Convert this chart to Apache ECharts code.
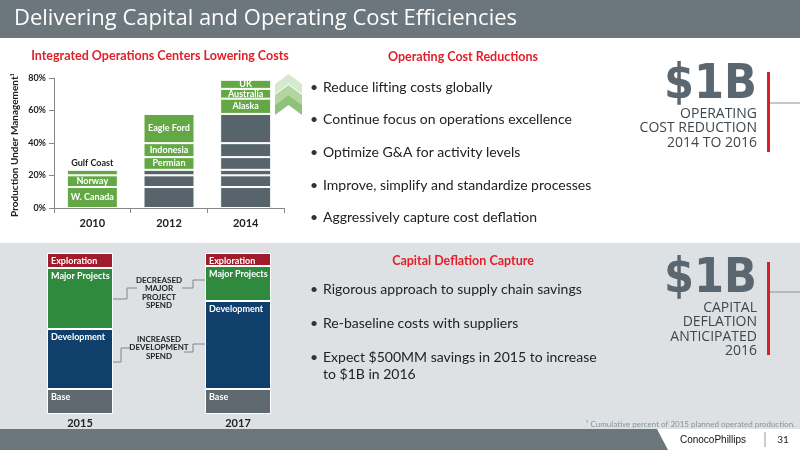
<!DOCTYPE html>
<html><head><meta charset="utf-8">
<script src="https://cdn.jsdelivr.net/npm/echarts@6/dist/echarts.min.js"></script>
<style>html,body{margin:0;padding:0;}#c{width:800px;height:450px;}</style>
</head><body><div id="c"></div>
<script>
// top chart: production under management (%)
const years = ['2010', '2012', '2014']
const regions = ['W. Canada', 'Norway', 'Gulf Coast', 'Permian', 'Indonesia', 'Eagle Ford', 'Alaska', 'Australia', 'UK']
const regionShare = [12.9, 7.2, 3.4, 7.8, 8.6, 18.0, 9.4, 6.0, 5.6]
const regionStart = [0, 0, 0, 1, 1, 1, 2, 2, 2] // year index in which the region was added
const pctTicks = ['0%', '20%', '40%', '60%', '80%']

// bottom chart: capital split (relative)
const capYears = ['2015', '', '2017']
const capNames = ['Base', 'Development', 'Major Projects', 'Exploration']
const cap2015 = [25, 60, 61, 15]
const cap2017 = [25, 88, 35, 13]
const capColors = ['#5e6970', '#0f3f6a', '#2f8a3e', '#a11c2a']

const GREEN = '#63a845', GRAY = '#58646c', DARK = '#6b767d'
const font = 'Lato, "Liberation Sans", sans-serif'

var myChart = echarts.init(document.getElementById('c'))

var topSeries = regions.map((name, i) => ({
  name: name,
  type: 'bar',
  stack: 'ops',
  xAxisIndex: 0, yAxisIndex: 0,
  barWidth: 51,
  data: years.map((y, j) => {
    if (j < regionStart[i]) return null
    var fresh = j === regionStart[i]
    return {
      value: regionShare[i],
      itemStyle: { color: fresh ? GREEN : GRAY },
      label: {
        show: fresh,
        position: name === 'Gulf Coast' ? 'top' : 'inside',
        color: name === 'Gulf Coast' ? '#222' : '#fff',
        distance: 2
      }
    }
  }),
  itemStyle: { borderColor: '#fff', borderWidth: 1 },
  label: { formatter: name, fontFamily: font, fontWeight: 'bold', fontSize: 9 }
}))

var capSeries = capNames.map((name, i) => ({
  name: 'cap' + name,
  type: 'bar',
  stack: 'cap',
  xAxisIndex: 1, yAxisIndex: 1,
  barWidth: 66,
  data: [cap2015[i], null, cap2017[i]],
  itemStyle: { color: capColors[i], borderColor: '#fff', borderWidth: 1 },
  label: {
    show: true, position: 'insideTopLeft', formatter: name, distance: 4,
    color: '#fff', fontFamily: font, fontWeight: 'bold', fontSize: 9
  }
}))

function chevron(top, color) {
  return { type: 'polygon', shape: { points: [[275, top + 10], [288.5, top], [302, top + 10], [302, top + 20], [288.5, top + 10], [275, top + 20]] }, style: { fill: color } }
}
function txt(x, y, text, size, color, opts) {
  return { type: 'text', x: x, y: y, style: Object.assign({ text: text, fontSize: size, fill: color, fontFamily: font }, opts || {}) }
}
function line(pts, color) {
  return { type: 'polyline', shape: { points: pts }, style: { stroke: color || '#7d868c', lineWidth: 1, fill: null } }
}
function bullets(x, ys, items) {
  var out = []
  items.forEach((t, k) => {
    out.push(txt(x, ys[k], '•', 14, '#333', { verticalAlign: 'middle' }))
    out.push(txt(x + 13, ys[k], t, 14, '#222', { verticalAlign: 'middle' }))
  })
  return out
}
function badge(y, lines, barTop, barBot, lineY) {
  var out = [txt(757, y, '$1B', 48, '#5b6770', { align: 'right', fontWeight: 'bold', fontFamily: '"Liberation Sans Narrow", "DejaVu Sans Condensed", sans-serif', verticalAlign: 'top' })]
  lines.forEach((l, k) => out.push(txt(757, y + 52 + k * 14.5, l, 14, '#3f474d', { align: 'right', fontFamily: '"Open Sans", sans-serif', verticalAlign: 'middle' })))
  out.push({ type: 'rect', shape: { x: 767, y: barTop, width: 3, height: barBot - barTop }, style: { fill: '#d81e27' } })
  out.push(line([[770, lineY], [800, lineY]], '#8a9399'))
  return out
}

var graphic = [
  { type: 'rect', z: -10, shape: { x: 0, y: 0, width: 800, height: 38 }, style: { fill: DARK } },
  { type: 'rect', z: -10, shape: { x: 0, y: 243, width: 800, height: 186 }, style: { fill: '#dde1e4' } },
  { type: 'rect', z: -10, shape: { x: 0, y: 429, width: 800, height: 21 }, style: { fill: DARK } },
  { type: 'polygon', z: -9, shape: { points: [[657, 429], [800, 429], [800, 450], [668, 450]] }, style: { fill: '#fff' } },
  txt(14, 19, 'Delivering Capital and Operating Cost Efficiencies', 22, '#fff', { verticalAlign: 'middle', fontFamily: '"Open Sans", sans-serif' }),
  txt(160, 56, 'Integrated Operations Centers Lowering Costs', 12.5, '#e0202a', { align: 'center', verticalAlign: 'middle', fontWeight: 'bold' }),
  txt(463, 57, 'Operating Cost Reductions', 12.5, '#e0202a', { align: 'center', verticalAlign: 'middle', fontWeight: 'bold' }),
  txt(463, 261, 'Capital Deflation Capture', 12.5, '#e0202a', { align: 'center', verticalAlign: 'middle', fontWeight: 'bold' }),
  { type: 'text', x: 15, y: 145, rotation: Math.PI / 2, style: { text: 'Production Under Management¹', fontSize: 10, fontWeight: 'bold', fill: '#222', fontFamily: font, align: 'center', verticalAlign: 'middle' } },
  chevron(74, '#d6e9cc'), chevron(85, '#b3d5a0'), chevron(95, '#8fc278'),
  line([[113, 299], [127, 299], [127, 288], [137, 288]]),
  line([[182, 288], [193, 288], [193, 280], [205, 280]]),
  line([[113, 362], [121, 362], [121, 348], [130, 348]]),
  line([[184, 352], [193, 352], [193, 344], [205, 344]]),
  txt(159, 280, 'DECREASED', 8, '#222', { align: 'center', verticalAlign: 'middle', fontWeight: 'bold' }),
  txt(159, 288.5, 'MAJOR', 8, '#222', { align: 'center', verticalAlign: 'middle', fontWeight: 'bold' }),
  txt(159, 297, 'PROJECT', 8, '#222', { align: 'center', verticalAlign: 'middle', fontWeight: 'bold' }),
  txt(159, 305.5, 'SPEND', 8, '#222', { align: 'center', verticalAlign: 'middle', fontWeight: 'bold' }),
  txt(159, 339, 'INCREASED', 8, '#222', { align: 'center', verticalAlign: 'middle', fontWeight: 'bold' }),
  txt(159, 347.5, 'DEVELOPMENT', 8, '#222', { align: 'center', verticalAlign: 'middle', fontWeight: 'bold' }),
  txt(159, 356, 'SPEND', 8, '#222', { align: 'center', verticalAlign: 'middle', fontWeight: 'bold' }),
  txt(795, 424, '¹ Cumulative percent of 2015 planned operated production.', 8, '#8a9399', { align: 'right', verticalAlign: 'middle' }),
  txt(713, 440, 'ConocoPhillips', 10, '#111', { align: 'center', verticalAlign: 'middle', fontFamily: '"Liberation Sans", sans-serif' }),
  line([[765, 432], [765, 447]], '#999'),
  txt(783, 440, '31', 10, '#222', { align: 'center', verticalAlign: 'middle' })
]
graphic = graphic.concat(
  bullets(310, [87, 119, 152, 185, 217], ['Reduce lifting costs globally', 'Continue focus on operations excellence', 'Optimize G&A for activity levels', 'Improve, simplify and standardize processes', 'Aggressively capture cost deflation']),
  bullets(310, [289, 323, 357], ['Rigorous approach to supply chain savings', 'Re-baseline costs with suppliers', 'Expect $500MM savings in 2015 to increase']),
  [txt(323, 374, 'to $1B in 2016', 14, '#222', { verticalAlign: 'middle' })],
  badge(62, ['OPERATING', 'COST REDUCTION', '2014 TO 2016'], 72, 152, 103),
  badge(256, ['CAPITAL', 'DEFLATION', 'ANTICIPATED', '2016'], 262, 355, 292)
)

var option = {
  animation: false,
  backgroundColor: '#fff',
  textStyle: { fontFamily: font },
  grid: [
    { left: 54, top: 78, width: 230, height: 130 },
    { left: 40.5, top: 253, width: 237, height: 161 }
  ],
  xAxis: [
    { type: 'category', gridIndex: 0, data: years, axisTick: { show: true, lineStyle: { color: '#888' } }, axisLine: { lineStyle: { color: '#888' } }, axisLabel: { fontWeight: 'bold', fontSize: 11, color: '#222', margin: 10 } },
    { type: 'category', gridIndex: 1, data: capYears, axisTick: { show: false }, axisLine: { show: false }, axisLabel: { fontWeight: 'bold', fontSize: 11, color: '#222', margin: 4 } }
  ],
  yAxis: [
    { type: 'value', gridIndex: 0, min: 0, max: 80, interval: 20, splitLine: { show: false }, axisLine: { show: true, lineStyle: { color: '#888' } }, axisTick: { show: true, lineStyle: { color: '#888' } }, axisLabel: { formatter: v => pctTicks[v / 20], fontWeight: 'bold', fontSize: 9, color: '#222' } },
    { type: 'value', gridIndex: 1, min: 0, max: 161, show: false, splitLine: { show: false } }
  ],
  series: topSeries.concat(capSeries),
  graphic: graphic
}
option && myChart.setOption(option)
</script></body></html>
